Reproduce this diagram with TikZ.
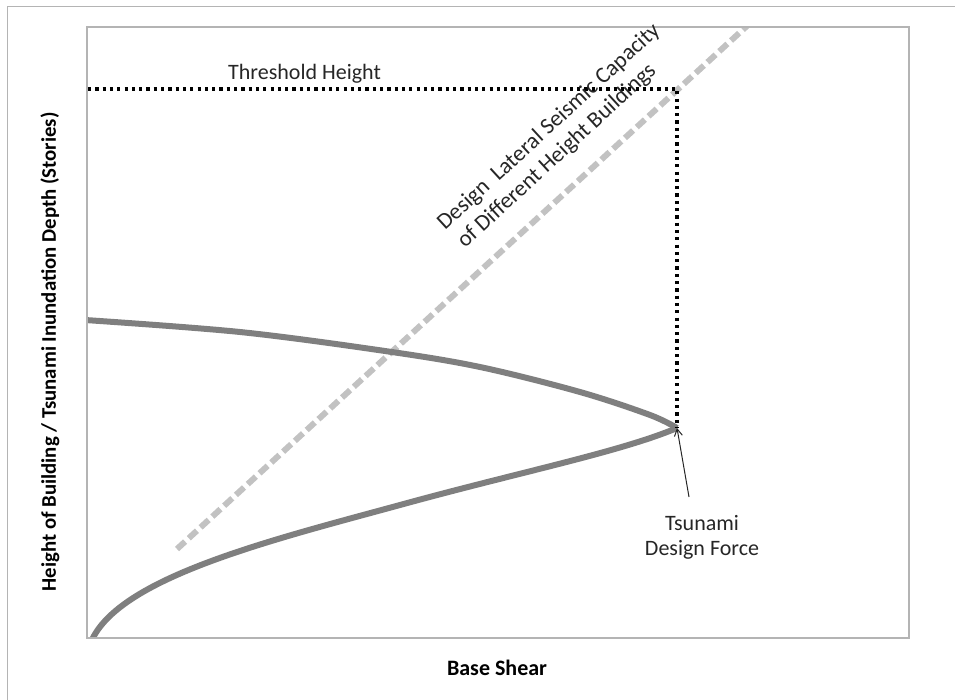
\documentclass[tikz,border=0pt]{standalone}
\usepackage{fontspec}
\setmainfont{Carlito}
\usetikzlibrary{arrows.meta}
\definecolor{framegray}{HTML}{B4B4B4}
\definecolor{curvegray}{HTML}{7F7F7F}
\definecolor{capgray}{HTML}{C2C2C2}
\tikzset{
  lbl/.style={font=\fontsize{22}{25}\selectfont, inner sep=0pt, text=black!85},
  diaglbl/.style={font=\fontsize{22.8}{26}\selectfont, inner sep=0pt, text=black!85, anchor=base west, rotate=42.6},
  boldlbl/.style={font=\fontsize{22}{25}\selectfont\bfseries, inner sep=0pt},
  dotline/.style={line width=3.4pt, dash pattern=on 3.2pt off 4.1pt, black},
  curve/.style={line width=6pt, curvegray, line join=round},
  capline/.style={line width=6pt, capgray, dash pattern=on 11pt off 5pt},
  plotframe/.style={draw=framegray, line width=1.5pt},
}
\begin{document}
\begin{tikzpicture}[x=1pt,y=-1pt]
\useasboundingbox (0,0) rectangle (955,700);
% outer frame lines
\draw[framegray, line width=1pt] (7,700) -- (7,7) -- (955,7);
% plot box
\coordinate (bl) at (87,638);
\coordinate (tr) at (909,27);
\begin{scope}
\clip (bl) rectangle (tr);
\coordinate (capA) at (177,549);
\coordinate (capB) at (748,25);
\draw[capline] (capA) -- (capB);
\coordinate (tip) at (677,428);
\coordinate (mid) at (400,505);
\coordinate (foot) at (91,642);
\draw[curve] plot[smooth, tension=0.55] coordinates {(85,320) (240,332) (385,351) (480,367) (580,392) (650,415) (677,428)};
\draw[curve] (tip) .. controls (620,452) and (520,472) .. (mid)
                   .. controls (268,541) and (118,578) .. (foot);
\end{scope}
\draw[plotframe] (bl) rectangle (tr);
% threshold
\coordinate (thL) at (88,89);
\coordinate (thR) at (677,89);
\draw[dotline] (thL) -- (thR) -- (tip);
\node[lbl, anchor=base west] (th) at (228,80) {Threshold Height};
% capacity label
\node[diaglbl] (cap1) at (445,231) {Design\ \ Lateral Seismic Capacity};
\node[diaglbl] (cap2) at (465,249) {of Different Height Buildings};
% tsunami design force
\node[lbl, align=center] (tdf) at (702,537) {Tsunami\\Design Force};
\coordinate (arrS) at (689,497);
\draw[-{Straight Barb[length=7pt,width=8pt]}, line width=1pt, black!85] (arrS) -- (tip);
% axis labels
\node[boldlbl] (xl) at (497,668) {Base Shear};
\node[boldlbl, font=\fontsize{20.8}{24}\selectfont\bfseries, rotate=90] (yl) at (50,352) {Height of Building / Tsunami Inundation Depth (Stories)};
\end{tikzpicture}
\end{document}
